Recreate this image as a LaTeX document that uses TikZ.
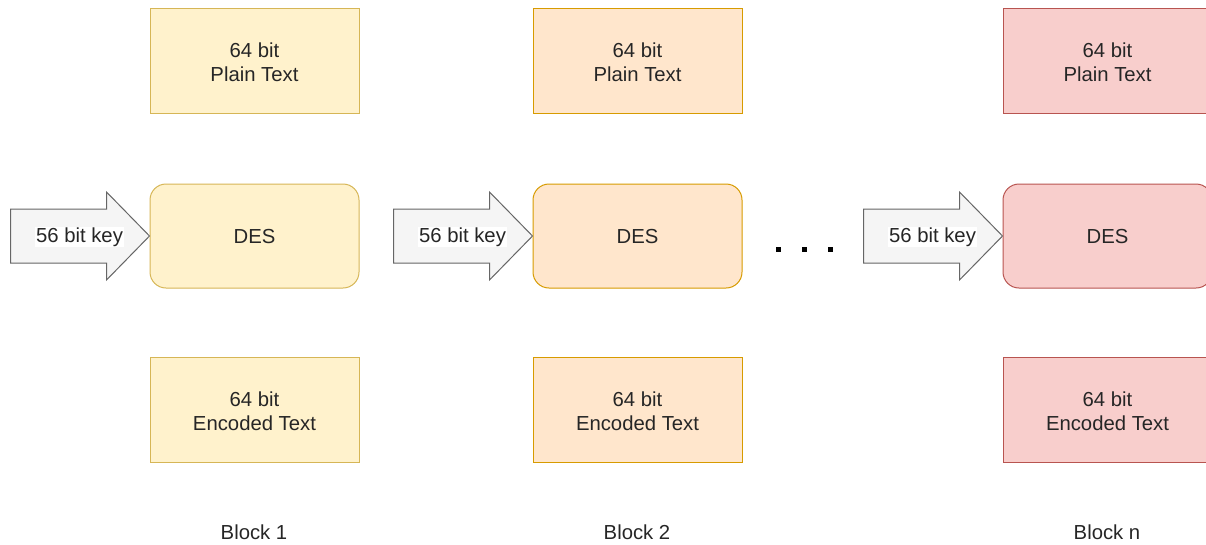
\documentclass[tikz,border=0pt]{standalone}
\usepackage{fontspec}
\setmainfont{Liberation Sans}
\definecolor{ylwfill}{HTML}{FFF2CC}
\definecolor{ylwline}{HTML}{D6B656}
\definecolor{orgfill}{HTML}{FFE6CC}
\definecolor{orgline}{HTML}{D79B00}
\definecolor{redfill}{HTML}{F8CECC}
\definecolor{redline}{HTML}{B85450}
\definecolor{keyfill}{HTML}{F5F5F5}
\definecolor{keyline}{HTML}{666666}
\definecolor{txt}{HTML}{262626}
\begin{document}
\begin{tikzpicture}[x=1pt,y=-1pt,
  every node/.style={font=\fontsize{20.3}{24}\selectfont, text=txt, align=center},
  databox/.style={draw, line width=1pt, minimum width=209pt, minimum height=105pt, inner sep=0pt},
  desbox/.style={databox, rounded corners=16pt, minimum height=104pt},
  keyarrow/.style={draw=keyline, fill=keyfill, line width=1pt, line join=miter},
  keylabel/.style={fill=white, inner sep=1pt},
  blocklabel/.style={inner sep=0pt},
  dot/.style={fill=black, draw=none}]
\useasboundingbox (0,0) rectangle (1206,544);
\begin{scope}
\clip (0,0) rectangle (1206,544);
% three columns: plain text, DES stage, encoded text
\foreach \cx/\fc/\lc/\id/\lab in {254.5/ylwfill/ylwline/1/1, 637.5/orgfill/orgline/2/2, 1107.5/redfill/redline/3/n}{
  \node[databox, fill=\fc, draw=\lc] (p\id) at (\cx,60.5) {};
  \node (pt\id) at ([yshift=-1.5pt]p\id.center) {64 bit\\Plain Text};
  \node[desbox, fill=\fc, draw=\lc] (d\id) at (\cx,236) {};
  \node (dt\id) at ([yshift=-1pt]d\id.center) {DES};
  \node[databox, fill=\fc, draw=\lc] (e\id) at (\cx,409.5) {};
  \node (et\id) at ([yshift=-1.5pt]e\id.center) {64 bit\\Encoded Text};
  \node[blocklabel] (b\id) at (\cx-0.5,532) {Block \lab};
  % key input arrow pointing into the DES box
  \coordinate (tip\id) at (d\id.west);
  \draw[keyarrow] (tip\id) -- ++(-43,-44) -- ++(0,17) -- ++(-96,0) -- ++(0,54)
     -- ++(96,0) -- ++(0,17) -- cycle;
  \node[keylabel] (k\id) at ([xshift=-70pt,yshift=-1pt]tip\id) {56 bit key};
}
\end{scope}
% ellipsis between block 2 and block n
\foreach \dx in {778,804,830}{
  \fill[dot] (\dx-2.5,246.5) rectangle (\dx+2.5,251.5);
}
\end{tikzpicture}
\end{document}
